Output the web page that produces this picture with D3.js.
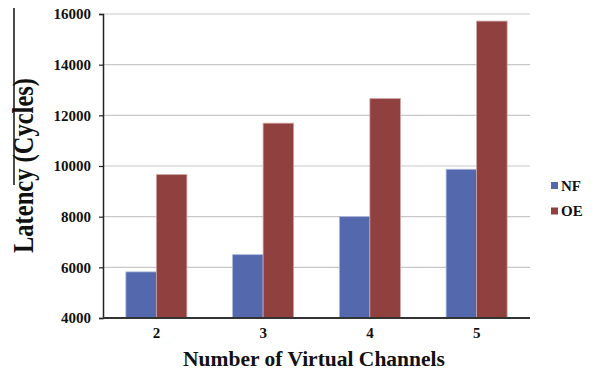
<!DOCTYPE html>
<html>
<head>
<meta charset="utf-8">
<script src="https://cdn.jsdelivr.net/npm/d3@7"></script>
<style>
  html, body { margin: 0; padding: 0; background: #fff; }
  svg text { font-family: "Liberation Serif", "Times New Roman", Times, serif !important; font-weight: bold; }
</style>
</head>
<body>
<svg id="chart" width="594" height="375"></svg>
<script>
// Latency per number of virtual channels
const categories = ["2", "3", "4", "5"];
const seriesNames = ["NF", "OE"];
const nfValues = [5820, 6500, 8000, 9870];
const oeValues = [9660, 11690, 12660, 15720];
const yTicks = [4000, 6000, 8000, 10000, 12000, 14000, 16000];

const colors = { NF: "#5468ad", OE: "#8f403f" };
const edges = { NF: "#aab6dc", OE: "#cfa3a2" };

const svg = d3.select("#chart");
const margin = { left: 103, right: 64, top: 14, bottom: 57 };
const width = 594, height = 375;

const x = d3.scaleBand()
  .domain(categories)
  .range([margin.left, width - margin.right])
  .paddingInner(0.4286)
  .paddingOuter(0.2143);

const xSub = d3.scaleBand()
  .domain(seriesNames)
  .range([0, x.bandwidth()]);

const y = d3.scaleLinear()
  .domain([4000, 16000])
  .range([height - margin.bottom, margin.top]);

const rows = categories.map((c, i) => ({ cat: c, NF: nfValues[i], OE: oeValues[i] }));

// gridlines
svg.append("g")
  .selectAll("line")
  .data(yTicks.slice(1))
  .join("line")
  .attr("x1", margin.left)
  .attr("x2", width - margin.right)
  .attr("y1", d => y(d))
  .attr("y2", d => y(d))
  .attr("stroke", "#c8c8c8")
  .attr("stroke-width", 1.2);

// bars
svg.append("g")
  .selectAll("g")
  .data(rows)
  .join("g")
  .attr("transform", d => `translate(${x(d.cat)},0)`)
  .selectAll("rect")
  .data(d => seriesNames.map(s => ({ s, v: d[s] })))
  .join("rect")
  .attr("x", d => xSub(d.s))
  .attr("width", xSub.bandwidth())
  .attr("y", d => y(d.v))
  .attr("height", d => y(4000) - y(d.v))
  .attr("fill", d => colors[d.s])
  .attr("stroke", d => edges[d.s])
  .attr("stroke-width", 0.8);

// y axis
const yAxis = svg.append("g")
  .attr("transform", `translate(${margin.left},0)`)
  .call(d3.axisLeft(y).tickValues(yTicks).tickSize(4).tickPadding(8).tickFormat(d3.format("d")));
yAxis.select(".domain").attr("stroke", "#222").attr("stroke-width", 1.5);
yAxis.selectAll(".tick line").attr("stroke", "#222").attr("stroke-width", 1.2);
yAxis.selectAll("text")
  .attr("font-size", 15)
  .attr("fill", "#111");

// x axis
const xAxis = svg.append("g")
  .attr("transform", `translate(0,${y(4000)})`)
  .call(d3.axisBottom(x).tickSize(0).tickPadding(9));
xAxis.select(".domain")
  .attr("stroke", "#333")
  .attr("stroke-width", 1.8)
  .attr("d", `M${margin.left},0H${width - margin.right}`);
xAxis.selectAll("text")
  .attr("font-size", 15)
  .attr("fill", "#111");

// size a title so its run length equals the given span
function fitTitle(sel, baseSize, span) {
  sel.attr("font-size", baseSize);
  const len = sel.node().getComputedTextLength();
  if (len > 0) sel.attr("font-size", baseSize * span / len);
  return sel;
}

// axis titles
const xTitle = svg.append("text")
  .attr("x", 314)
  .attr("y", 366)
  .attr("text-anchor", "middle")
  .attr("fill", "#111")
  .text("Number of Virtual Channels");
fitTitle(xTitle, 21, 262);

const yTitle = svg.append("text")
  .attr("transform", "translate(33,165.5) scale(1.22,1) rotate(-90)")
  .attr("text-anchor", "middle")
  .attr("fill", "#111")
  .text("Latency (Cycles)");
fitTitle(yTitle, 22, 175);

// rule beside the y title
svg.append("line")
  .attr("x1", 14).attr("x2", 14)
  .attr("y1", 8).attr("y2", 185)
  .attr("stroke", "#111")
  .attr("stroke-width", 1.5);

// legend
const legend = svg.append("g")
  .selectAll("g")
  .data(seriesNames)
  .join("g")
  .attr("transform", (d, i) => `translate(551,${182 + i * 25.5})`);
legend.append("rect")
  .attr("width", 7)
  .attr("height", 7)
  .attr("fill", d => colors[d]);
legend.append("text")
  .attr("x", 10)
  .attr("y", 8.5)
  .attr("font-size", 15)
  .attr("fill", "#111")
  .text(d => d);
</script>
</body>
</html>
